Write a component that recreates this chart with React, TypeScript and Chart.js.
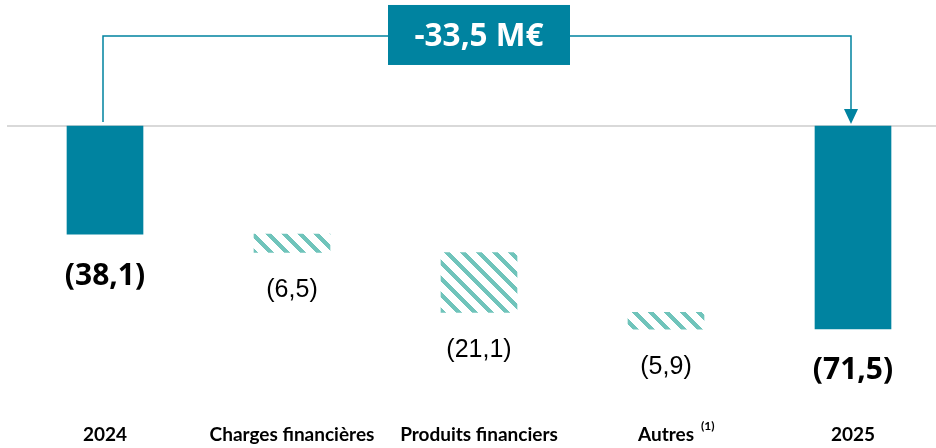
import React, { useEffect, useRef } from "react";
import { Chart, registerables } from "chart.js";

Chart.register(...registerables);

const categories = ["2024", "Charges financières", "Produits financiers", "Autres", "2025"];
const values = [-38.1, -6.5, -21.1, -5.9, -71.5];
const isTotal = [true, false, false, false, true];
const valueLabels = ["(38,1)", "(6,5)", "(21,1)", "(5,9)", "(71,5)"];
const varianceLabel = "-33,5 M€";
const footnote = "(1)";

const TEAL = "#0083a0";
const HATCH = "#70c4bb";
const CAT_FONT = "Lato, 'Open Sans', sans-serif";
const CAT_SIZE = 19;

function buildRanges() {
  const out: [number, number][] = [];
  let run = 0;
  values.forEach((v, i) => {
    if (isTotal[i]) {
      out.push([0, v]);
      run = v;
    } else {
      out.push([run, run + v]);
      run = run + v;
    }
  });
  return out;
}

function makeHatch(): CanvasPattern | string {
  const c = document.createElement("canvas");
  const s = 16;
  const sw = 6;
  c.width = s;
  c.height = s;
  const g = c.getContext("2d");
  if (!g) return HATCH;
  g.fillStyle = HATCH;
  for (let y = 0; y < s; y++) {
    for (let x = 0; x < s; x++) {
      if ((((x - y) % s) + s) % s < sw) g.fillRect(x, y, 1, 1);
    }
  }
  return g.createPattern(c, "repeat") || HATCH;
}

const overlay = {
  id: "overlay",
  beforeDatasetsDraw(chart: any) {
    const ctx = chart.ctx;
    const y0 = chart.scales.y.getPixelForValue(0);
    ctx.save();
    ctx.strokeStyle = "#d9d9d9";
    ctx.lineWidth = 2;
    ctx.beginPath();
    ctx.moveTo(7, y0);
    ctx.lineTo(chart.width, y0);
    ctx.stroke();
    ctx.restore();
  },
  afterDatasetsDraw(chart: any) {
    const ctx = chart.ctx;
    const meta = chart.getDatasetMeta(0);
    const xs = chart.scales.x;
    const y0 = chart.scales.y.getPixelForValue(0);
    ctx.save();
    // value labels
    meta.data.forEach((bar: any, i: number) => {
      const bottom = Math.max(bar.y, bar.base);
      ctx.fillStyle = "#000";
      ctx.textAlign = "center";
      ctx.textBaseline = "middle";
      if (isTotal[i]) {
        ctx.font = "bold 30px 'Open Sans', sans-serif";
        ctx.fillText(valueLabels[i], bar.x, bottom + 42);
      } else {
        ctx.font = "25px 'Liberation Sans', Arial, sans-serif";
        ctx.fillText(valueLabels[i], bar.x, bottom + 38);
      }
    });
    // connector
    const xl = meta.data[0].x - 2;
    const xr = meta.data[4].x - 2;
    const yTop = y0 - 90;
    ctx.strokeStyle = TEAL;
    ctx.lineWidth = 1.5;
    ctx.beginPath();
    ctx.moveTo(xl, y0 - 4);
    ctx.lineTo(xl, yTop);
    ctx.lineTo(xr, yTop);
    ctx.lineTo(xr, y0 - 14);
    ctx.stroke();
    ctx.fillStyle = TEAL;
    ctx.beginPath();
    ctx.moveTo(xr - 7, y0 - 17);
    ctx.lineTo(xr + 7, y0 - 17);
    ctx.lineTo(xr, y0 - 2);
    ctx.closePath();
    ctx.fill();
    // variance box
    const cx = meta.data[2].x;
    ctx.fillStyle = TEAL;
    ctx.fillRect(cx - 91, yTop - 31, 182, 60);
    ctx.fillStyle = "#fff";
    ctx.font = "bold 31.5px 'Open Sans', sans-serif";
    ctx.textAlign = "center";
    ctx.textBaseline = "middle";
    ctx.fillText(varianceLabel, cx, yTop + 1);
    // footnote superscript
    ctx.font = "bold " + CAT_SIZE + "px " + CAT_FONT;
    const w = ctx.measureText(categories[3]).width;
    const lx = xs.getPixelForTick(3) + w / 2 + 7;
    const labelMid = xs.top + 15 + CAT_SIZE * 0.6;
    ctx.font = "bold 12px " + CAT_FONT;
    ctx.textAlign = "left";
    ctx.fillStyle = "#000";
    ctx.fillText(footnote, lx, labelMid - 8);
    ctx.restore();
  },
};

export default function App() {
  const ref = useRef<HTMLCanvasElement | null>(null);
  useEffect(() => {
    document.body.style.margin = "0";
    document.body.style.overflow = "hidden";
    if (!ref.current) return;
    const hatch = makeHatch();
    const chart = new Chart(ref.current, {
      type: "bar",
      data: {
        labels: categories,
        datasets: [
          {
            data: buildRanges() as any,
            backgroundColor: isTotal.map((t) => (t ? TEAL : hatch)) as any,
            borderWidth: 0,
            barThickness: 76,
          },
        ],
      },
      options: {
        animation: false,
        responsive: false,
        layout: { padding: { left: 11.5, right: 3.5, top: 0, bottom: 4 } },
        plugins: { legend: { display: false }, tooltip: { enabled: false } },
        scales: {
          x: {
            grid: { display: false, drawTicks: false },
            border: { display: false },
            afterFit: (s: any) => {
              s.height = 36;
            },
            ticks: {
              color: "#000",
              padding: 15,
              font: { family: CAT_FONT, size: CAT_SIZE, weight: "bold" },
              maxRotation: 0,
              autoSkip: false,
            },
          },
          y: { display: false, min: -99.4, max: 44.4 },
        },
      },
      plugins: [overlay],
    });
    return () => chart.destroy();
  }, []);
  return (
    <div style={{ position: "fixed", left: 0, top: 0, width: 950, height: 448 }}>
      <canvas ref={ref} width={950} height={448} style={{ width: 950, height: 448 }} />
    </div>
  );
}
